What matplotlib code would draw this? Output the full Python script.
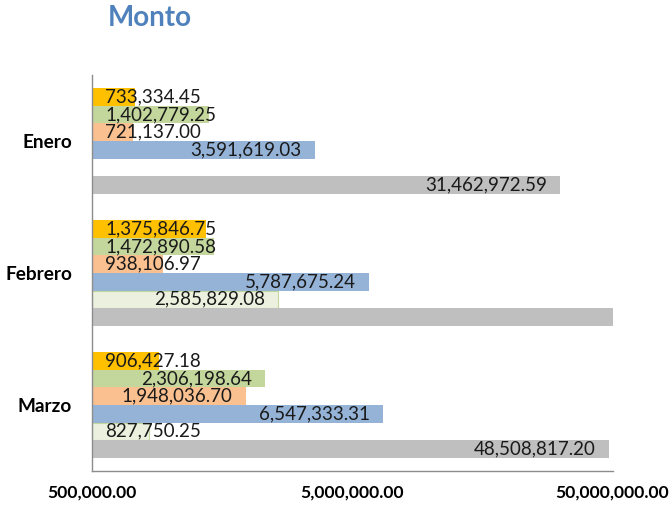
import numpy as np
import matplotlib
matplotlib.use("Agg")
import matplotlib.pyplot as plt

# Data (top bar to bottom bar inside each month)
months = ["Enero", "Febrero", "Marzo"]
serie_amarilla = [733334.45, 1375846.75, 906427.18]
serie_verde = [1402779.25, 1472890.58, 2306198.64]
serie_salmon = [721137.00, 938106.97, 1948036.70]
serie_azul = [3591619.03, 5787675.24, 6547333.31]
serie_crema = [np.nan, 2585829.08, 827750.25]
serie_gris = [31462972.59, 55000000.00, 48508817.20]  # Febrero runs past the axis end

series = [serie_amarilla, serie_verde, serie_salmon, serie_azul, serie_crema, serie_gris]
colors = ["#FFC000", "#C3D69B", "#FAC090", "#95B3D7", "#EBF1DE", "#BFBFBF"]
edges = ["none", "none", "none", "none", "#C3D69B", "none"]

x_ticks = [500000, 5000000, 50000000]
x_min, x_max = 500000, 50000000

plt.rcParams["font.family"] = ["Lato", "DejaVu Sans"]

fig = plt.figure(figsize=(6.7, 5.08), dpi=100)
ax = fig.add_axes([92 / 670, 1 - 471 / 508, 521 / 670, 396 / 508])
ax.set_xscale("log")

n = len(series)
h = 0.133
y0 = np.arange(len(months))
labels = []
for i, (vals, c, ec) in enumerate(zip(series, colors, edges)):
    ys = y0 - (n - 1) / 2 * h + i * h
    vals = np.array(vals, dtype=float)
    ax.barh(ys, vals - x_min, left=x_min, height=h, color=c,
            edgecolor=ec, linewidth=0.8)
    for y, v in zip(ys, vals):
        if np.isnan(v) or v > x_max:
            continue
        t = ax.text(v, y, f"{v:,.2f}", ha="right", va="center",
                    fontsize=13.5, color="#1A1A1A")
        labels.append((t, v, y))

ax.set_xlim(x_min, x_max * 1.006)
ax.set_ylim(len(months) - 0.5, -0.5)
ax.set_yticks(y0)
ax.set_yticklabels(months, fontsize=13.7, fontweight="bold")
ax.set_xticks(x_ticks)
ax.set_xticklabels([f"{v:,.2f}" for v in x_ticks], fontsize=12.6,
                   fontweight="bold")
ax.xaxis.set_minor_locator(matplotlib.ticker.NullLocator())
ax.tick_params(axis="x", length=0, pad=10)
ax.tick_params(axis="y", length=0, pad=14.4)

for s in ["top", "right"]:
    ax.spines[s].set_visible(False)
for s in ["left", "bottom"]:
    ax.spines[s].set_color("#8C8C8C")
    ax.spines[s].set_linewidth(1)

# Excel-style "inside end" labels: right at the bar end,
# but pushed to start at the base when the bar is too short
fig.canvas.draw()
renderer = fig.canvas.get_renderer()
pad = 13
base_px = ax.transData.transform((x_min, 0))[0]
for t, v, y in labels:
    w = t.get_window_extent(renderer).width
    end_px, y_px = ax.transData.transform((v, y))
    right_px = max(end_px - pad, base_px + pad + w)
    t.set_x(ax.transData.inverted().transform((right_px, y_px))[0])

fig.text(150 / 670, 1 - 18 / 508, "Monto", ha="center", va="center",
         fontsize=20, fontweight="bold", color="#4F81BD")

fig.savefig("out.png", dpi=100)
